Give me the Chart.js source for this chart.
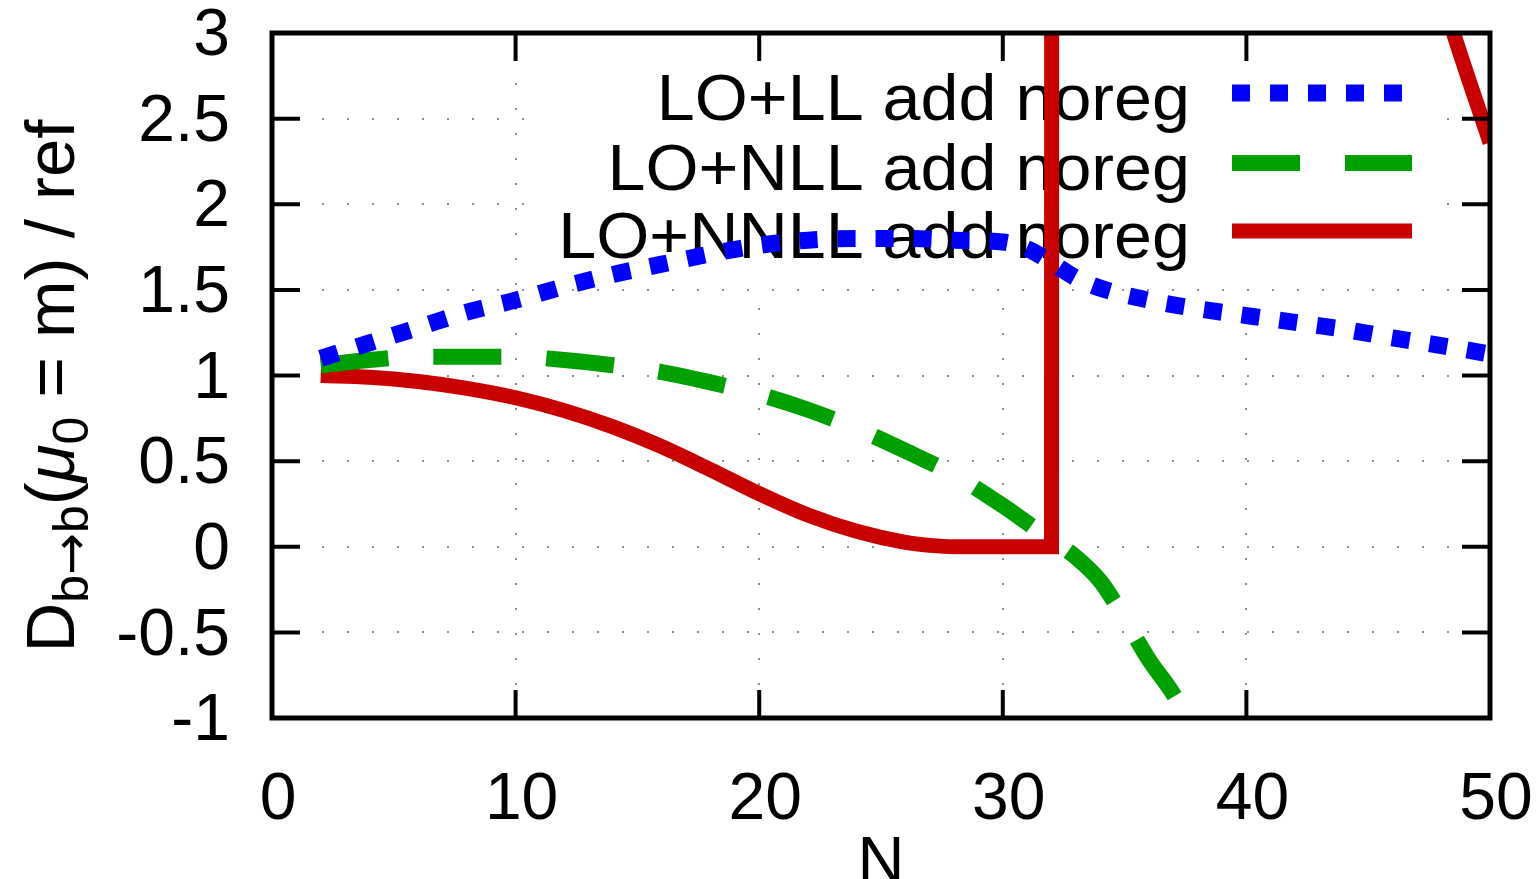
<!DOCTYPE html>
<html>
<head>
<meta charset="utf-8">
<script src="https://cdn.jsdelivr.net/npm/chart.js@4.4.1/dist/chart.umd.min.js"></script>
<style>
  html, body { margin: 0; padding: 0; background: #fff; overflow: hidden; }
  canvas { display: block; }
</style>
</head>
<body>
<canvas id="chart" width="1536" height="879"></canvas>
<script>
// values
const llN   = [2, 4, 6, 8, 10, 12, 14, 16, 18, 20, 22, 24, 26, 28, 30, 31, 32, 33, 34, 36, 38, 40, 42, 44, 46, 48, 50];
const llVal = [1.10, 1.19, 1.28, 1.37, 1.44, 1.52, 1.59, 1.65, 1.71, 1.76, 1.79, 1.80, 1.80, 1.79, 1.78, 1.74, 1.66, 1.57, 1.51, 1.44, 1.39, 1.35, 1.31, 1.27, 1.22, 1.175, 1.125];

const nllN   = [2, 4, 6, 8, 10, 12, 14, 16, 18, 20, 22, 24, 26, 28, 30, 31, 32, 33, 34, 35, 36, 37, 38];
const nllVal = [1.06, 1.09, 1.11, 1.11, 1.11, 1.09, 1.06, 1.02, 0.96, 0.89, 0.80, 0.69, 0.56, 0.42, 0.24, 0.14, 0.04, -0.06, -0.20, -0.42, -0.66, -0.86, -1.12];

const nnllN   = [2, 4, 6, 8, 10, 12, 14, 16, 18, 20, 22, 24, 26, 27, 28, 30, 32, 32.05, 35, 40, 45, 47, 48.5, 50];
const nnllVal = [1.00, 0.99, 0.965, 0.925, 0.87, 0.795, 0.70, 0.585, 0.45, 0.31, 0.185, 0.09, 0.025, 0.008, 0.0, 0.0, 0.0, 30, 9, 5.5, 4.3, 3.7, 3.0, 2.36];

const seriesNames = ['LO+LL add noreg', 'LO+NLL add noreg', 'LO+NNLL add noreg'];
const xTickVals = [0, 10, 20, 30, 40, 50];
const yTickVals = [-1, -0.5, 0, 0.5, 1, 1.5, 2, 2.5, 3];

const FONT = '"Liberation Sans", Arial, Helvetica, sans-serif';
const FS = 65;

const pts = (xs, ys) => xs.map((x, i) => ({ x, y: ys[i] }));

const line = (label, data, color, width, dash) => ({
  label, data,
  borderColor: color,
  borderWidth: width,
  borderDash: dash,
  borderCapStyle: 'butt',
  borderJoinStyle: 'miter',
  pointRadius: 0,
  fill: false,
  cubicInterpolationMode: 'monotone',
  clip: 0
});

// key rows (sample line centre y)
const keyRows = [93, 163, 231];

const gnuplotLook = {
  id: 'gnuplotLook',
  beforeDatasetsDraw(chart) {
    const ctx = chart.ctx;
    ctx.save();
    // opaque key box hides grid behind it
    ctx.fillStyle = '#fff';
    ctx.fillRect(527, 36, 920, 250);
    ctx.font = `${FS}px ${FONT}`;
    ctx.fillStyle = '#000';
    ctx.textBaseline = 'alphabetic';
    chart.data.datasets.forEach((ds, i) => {
      const y = keyRows[i];
      // text is a little wider in the original, stretch it horizontally
      ctx.save();
      ctx.translate(1190, y + 27);
      ctx.scale(1.05, 1);
      ctx.textAlign = 'right';
      ctx.fillText(ds.label, 0, 0);
      ctx.restore();
      ctx.beginPath();
      ctx.strokeStyle = ds.borderColor;
      ctx.lineWidth = ds.borderWidth;
      ctx.lineCap = 'butt';
      ctx.setLineDash(ds.borderDash || []);
      ctx.moveTo(1232, y);
      ctx.lineTo(1412, y);
      ctx.stroke();
    });
    ctx.restore();
  },
  afterDraw(chart) {
    const ctx = chart.ctx;
    const a = chart.chartArea;
    const xs = chart.scales.x, ys = chart.scales.y;
    ctx.save();
    ctx.strokeStyle = '#000';
    ctx.setLineDash([]);
    ctx.lineWidth = 4;
    // inward ticks on all four sides
    ctx.beginPath();
    xs.ticks.forEach(t => {
      const px = xs.getPixelForValue(t.value);
      ctx.moveTo(px, a.bottom); ctx.lineTo(px, a.bottom - 28);
      ctx.moveTo(px, a.top); ctx.lineTo(px, a.top + 28);
    });
    ys.ticks.forEach(t => {
      const py = ys.getPixelForValue(t.value);
      ctx.moveTo(a.left, py); ctx.lineTo(a.left + 28, py);
      ctx.moveTo(a.right, py); ctx.lineTo(a.right - 28, py);
    });
    ctx.stroke();
    ctx.lineWidth = 5;
    ctx.strokeRect(a.left, a.top, a.right - a.left, a.bottom - a.top);

    // x title
    ctx.fillStyle = '#000';
    ctx.font = `${FS}px ${FONT}`;
    ctx.textAlign = 'center';
    ctx.textBaseline = 'alphabetic';
    ctx.fillText('N', (a.left + a.right) / 2, 882);

    // y title with subscripts
    const TS = 69;
    const parts = [
      { t: 'D', s: 1, d: 0 },
      { t: 'b', s: 0.72, d: 0.2 },
      { t: '\u2192', s: 0.72, d: 0.2, f: '"DejaVu Sans", sans-serif' },
      { t: 'b', s: 0.72, d: 0.2 },
      { t: '(', s: 1, d: 0 },
      { t: '\u03bc', s: 1, d: 0, it: true },
      { t: '0', s: 0.72, d: 0.2 },
      { t: ' = m) / ref', s: 1, d: 0 }
    ];
    const fontOf = p => `${p.it ? 'italic ' : ''}${Math.round(TS * p.s)}px ${p.f || FONT}`;
    let total = 0;
    parts.forEach(p => { ctx.font = fontOf(p); p.w = ctx.measureText(p.t).width; total += p.w; });
    ctx.translate(74, 386);
    ctx.rotate(-Math.PI / 2);
    ctx.textAlign = 'left';
    let x = -total / 2;
    parts.forEach(p => {
      ctx.font = fontOf(p);
      ctx.fillText(p.t, x, p.d * TS);
      x += p.w;
    });
    ctx.restore();
  }
};

new Chart(document.getElementById('chart'), {
  type: 'line',
  data: {
    datasets: [
      line(seriesNames[0], pts(llN, llVal), '#0000ff', 17, [18, 20]),
      line(seriesNames[1], pts(nllN, nllVal), '#00a000', 16, [68, 45]),
      line(seriesNames[2], pts(nnllN, nnllVal), '#c80000', 15, [])
    ]
  },
  options: {
    responsive: false,
    animation: false,
    devicePixelRatio: 1,
    events: [],
    layout: { padding: { top: 33, right: 46, left: 0, bottom: 0 } },
    plugins: { legend: { display: false }, tooltip: { enabled: false } },
    scales: {
      x: {
        type: 'linear', min: 0, max: 50,
        afterBuildTicks: s => { s.ticks = xTickVals.map(v => ({ value: v })); },
        afterFit: s => { s.height = 161; s.paddingLeft = 0; s.paddingRight = 0; },
        grid: { color: '#8c8c8c', lineWidth: 2, drawTicks: false },
        border: { display: false, dash: [2, 23] },
        ticks: { color: '#000', font: { family: FONT, size: 66 }, padding: 43, labelOffset: 6, maxRotation: 0, autoSkip: false, callback: v => String(v) }
      },
      y: {
        type: 'linear', min: -1, max: 3,
        afterBuildTicks: s => { s.ticks = yTickVals.map(v => ({ value: v })); },
        afterFit: s => { s.width = 272; s.paddingTop = 0; s.paddingBottom = 0; },
        grid: { color: '#8c8c8c', lineWidth: 2, drawTicks: false },
        border: { display: false, dash: [2, 23] },
        ticks: { color: '#000', font: { family: FONT, size: 66 }, padding: 42, labelOffset: 4, autoSkip: false, callback: v => String(v) }
      }
    }
  },
  plugins: [gnuplotLook]
});
</script>
</body>
</html>
